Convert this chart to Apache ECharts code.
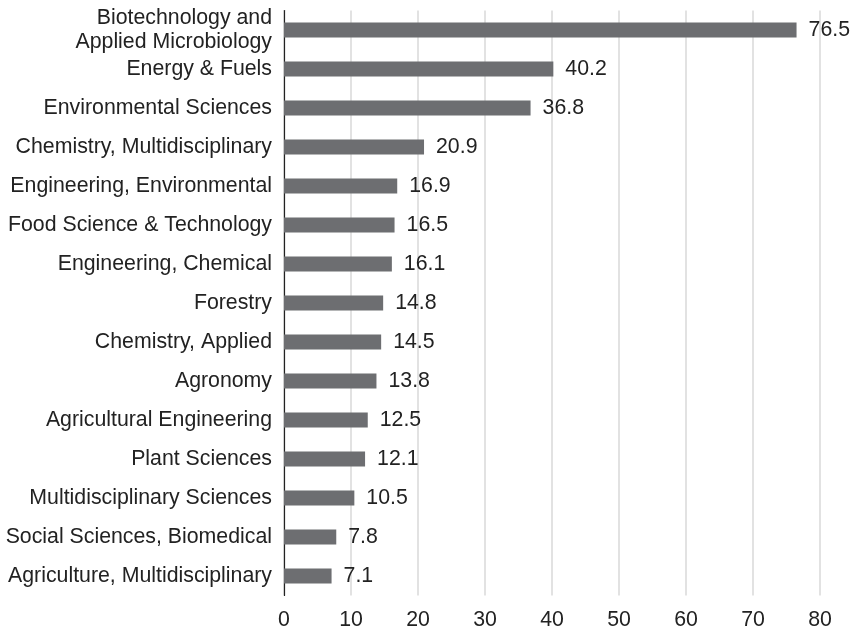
<!DOCTYPE html>
<html><head><meta charset="utf-8">
<script src="https://cdn.jsdelivr.net/npm/echarts@6/dist/echarts.min.js"></script>
<style>html,body{margin:0;padding:0;background:#fff}#c{width:857px;height:634px}</style>
</head><body><div id="c"></div>
<script>
const categories = [
  "Biotechnology and\nApplied Microbiology",
  "Energy & Fuels",
  "Environmental Sciences",
  "Chemistry, Multidisciplinary",
  "Engineering, Environmental",
  "Food Science & Technology",
  "Engineering, Chemical",
  "Forestry",
  "Chemistry, Applied",
  "Agronomy",
  "Agricultural Engineering",
  "Plant Sciences",
  "Multidisciplinary Sciences",
  "Social Sciences, Biomedical",
  "Agriculture, Multidisciplinary"
];
const values = [76.5, 40.2, 36.8, 20.9, 16.9, 16.5, 16.1, 14.8, 14.5, 13.8, 12.5, 12.1, 10.5, 7.8, 7.1];
const xTicks = [0, 10, 20, 30, 40, 50, 60, 70, 80];

const chart = echarts.init(document.getElementById('c'), null, {renderer: 'canvas'});
const font = '"Liberation Sans", Arial, Helvetica, sans-serif';
chart.setOption({
  animation: false,
  grid: {left: 284, right: 37, top: 10.5, bottom: 38.5, containLabel: false},
  xAxis: {
    type: 'value', min: xTicks[0], max: xTicks[xTicks.length - 1], interval: 10,
    axisLine: {show: false}, axisTick: {show: false},
    splitLine: {show: true, lineStyle: {color: '#d9d9d9', width: 1.5}},
    axisLabel: {color: '#222', fontSize: 21.3, fontFamily: font, margin: 14}
  },
  yAxis: {
    type: 'category', inverse: true, data: categories,
    axisLine: {show: true, lineStyle: {color: '#222', width: 1.2}},
    axisTick: {show: false},
    axisLabel: {color: '#222', fontSize: 21.3, fontFamily: font, margin: 12, lineHeight: 24, align: 'right'}
  },
  series: [{
    type: 'bar', data: values, barWidth: 15,
    itemStyle: {color: '#6d6e71'},
    label: {show: true, position: 'right', distance: 12, color: '#222', fontSize: 21.3, fontFamily: font,
      formatter: p => p.value.toFixed(1)}
  }]
});
</script></body></html>
